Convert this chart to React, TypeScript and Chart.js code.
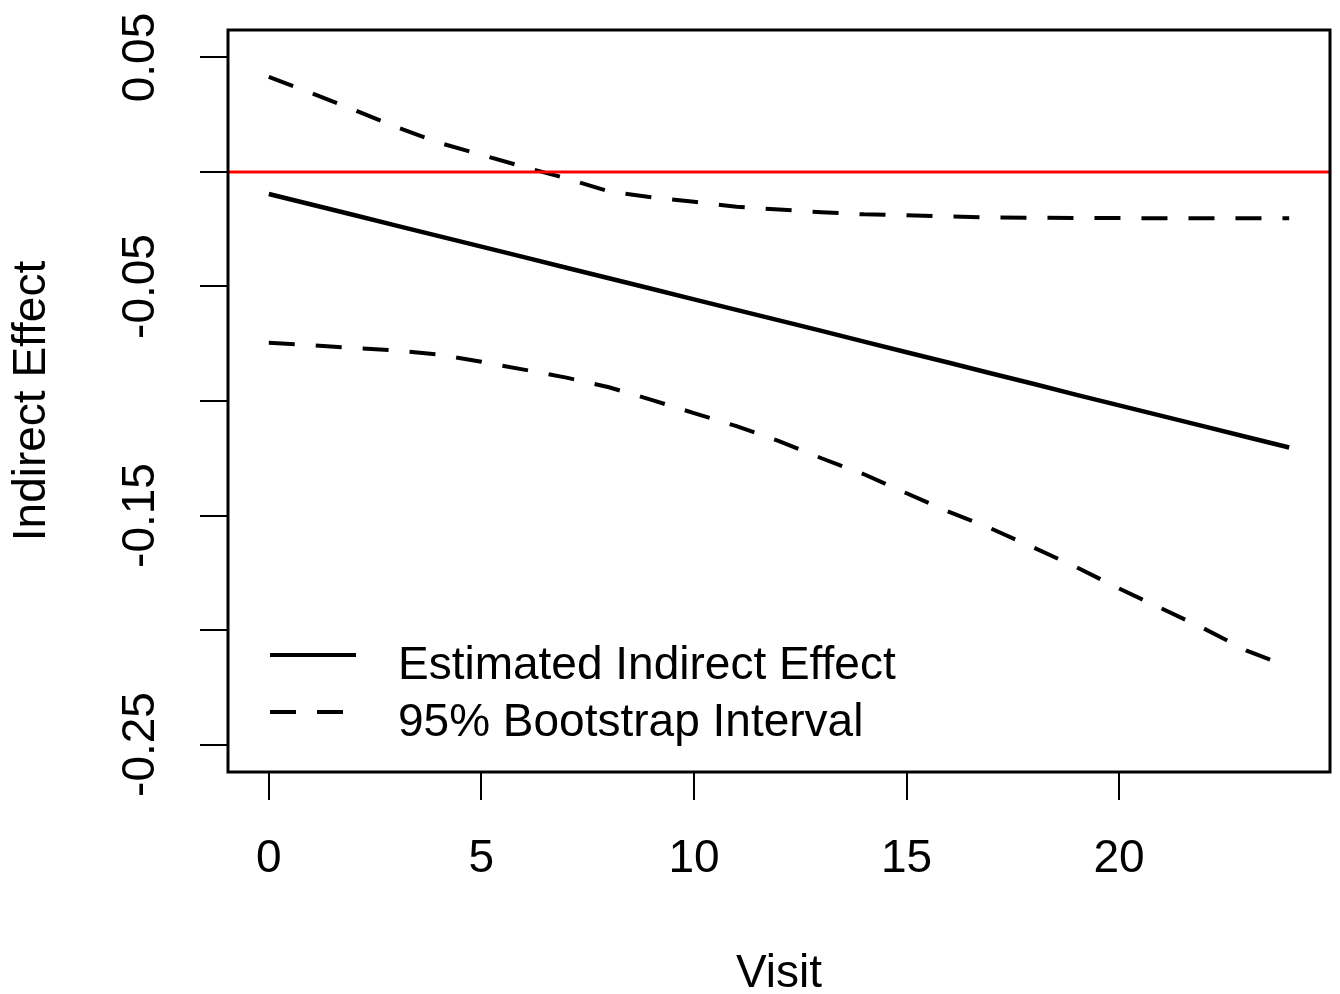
import React, { useEffect, useRef } from 'react';
import { Chart, registerables } from 'chart.js';

Chart.register(...registerables);

// ---- data ----
const visits = [0, 1, 2, 3, 4, 5, 6, 7, 8, 9, 10, 11, 12, 13, 14, 15, 16, 17, 18, 19, 20, 21, 22, 23, 24];

const estimatedEffect = [
  -0.0096, -0.0142, -0.0188, -0.0234, -0.028, -0.0326, -0.0372, -0.0418, -0.0464, -0.051,
  -0.0556, -0.0602, -0.0648, -0.0694, -0.0741, -0.0787, -0.0833, -0.088, -0.0926, -0.0973,
  -0.1019, -0.1065, -0.1111, -0.1157, -0.1203,
];

const upperBound = [
  0.0415, 0.0345, 0.0272, 0.0196, 0.0128, 0.0075, 0.0022, -0.0028, -0.0085, -0.011,
  -0.013, -0.0152, -0.0164, -0.0176, -0.0185, -0.0189, -0.0194, -0.0199, -0.02, -0.0201,
  -0.0201, -0.0202, -0.0202, -0.0202, -0.0202,
];

const lowerBound = [
  -0.0746, -0.0757, -0.0768, -0.0779, -0.0797, -0.0829, -0.0863, -0.0898, -0.094, -0.0995,
  -0.1053, -0.111, -0.1175, -0.125, -0.132, -0.1403, -0.1484, -0.1558, -0.1641, -0.1726,
  -0.1819, -0.1906, -0.1994, -0.209, -0.2162,
];

const referenceLine = [0, 0];

const yLabelledTicks = ['0.05', '-0.05', '-0.15', '-0.25'];

const seriesLabels = ['Estimated Indirect Effect', '95% Bootstrap Interval'];

const X_MIN = -0.96;
const X_MAX = 24.96;
const Y_MIN = -0.262;
const Y_MAX = 0.062;

const FONT = "'Liberation Sans', Arial, Helvetica, sans-serif";
const DASH = [26, 21];

export default function App() {
  const ref = useRef<HTMLCanvasElement | null>(null);

  useEffect(() => {
    if (!ref.current) return;
    const pts = (ys: number[]) => visits.map((x, i) => ({ x, y: ys[i] }));

    const boxPlugin = {
      id: 'rbox',
      afterDraw(chart: any) {
        const { ctx, chartArea: a } = chart;
        ctx.save();
        ctx.strokeStyle = '#000';
        ctx.lineWidth = 3;
        ctx.strokeRect(a.left, a.top, a.right - a.left, a.bottom - a.top);
        ctx.restore();
      },
    };

    const legendPlugin = {
      id: 'rlegend',
      afterDraw(chart: any) {
        const { ctx, chartArea: a } = chart;
        const rows = [
          { label: seriesLabels[0], dash: [] as number[], lineY: a.bottom - 117, textY: a.bottom - 93 },
          { label: seriesLabels[1], dash: DASH, lineY: a.bottom - 60, textY: a.bottom - 36 },
        ];
        ctx.save();
        rows.forEach((r) => {
          ctx.beginPath();
          ctx.setLineDash(r.dash);
          ctx.lineCap = 'butt';
          ctx.lineWidth = 4;
          ctx.strokeStyle = '#000';
          ctx.moveTo(a.left + 42, r.lineY);
          ctx.lineTo(a.left + 128, r.lineY);
          ctx.stroke();
          ctx.setLineDash([]);
          ctx.fillStyle = '#000';
          ctx.font = `46px ${FONT}`;
          ctx.textAlign = 'left';
          ctx.textBaseline = 'alphabetic';
          ctx.fillText(r.label, a.left + 170, r.textY);
        });
        ctx.restore();
      },
    };

    const chart = new Chart(ref.current, {
      type: 'line',
      data: {
        datasets: [
          {
            label: 'zero',
            data: [
              { x: X_MIN, y: referenceLine[0] },
              { x: X_MAX, y: referenceLine[1] },
            ],
            borderColor: '#ff0000',
            borderWidth: 3,
            pointRadius: 0,
            order: 0,
          },
          {
            label: seriesLabels[0],
            data: pts(estimatedEffect),
            borderColor: '#000',
            borderWidth: 4.5,
            pointRadius: 0,
            order: 1,
          },
          {
            label: seriesLabels[1],
            data: pts(upperBound),
            borderColor: '#000',
            borderWidth: 4,
            borderDash: DASH,
            pointRadius: 0,
            order: 1,
          },
          {
            label: seriesLabels[1] + ' (lower)',
            data: pts(lowerBound),
            borderColor: '#000',
            borderWidth: 4,
            borderDash: DASH,
            pointRadius: 0,
            order: 1,
          },
        ],
      },
      options: {
        responsive: false,
        animation: false,
        events: [],
        layout: { padding: { top: 30, right: 10, bottom: 0, left: 0 } },
        plugins: {
          legend: { display: false },
          tooltip: { enabled: false },
        },
        elements: { line: { tension: 0, borderCapStyle: 'butt' } },
        scales: {
          x: {
            type: 'linear',
            min: X_MIN,
            max: X_MAX,
            afterFit: (s: any) => {
              s.height = 222;
              s.paddingLeft = 0;
              s.paddingRight = 0;
            },
            border: { display: false },
            grid: {
              drawOnChartArea: false,
              drawTicks: true,
              tickLength: 28,
              color: '#000',
              lineWidth: 2,
            },
            ticks: {
              stepSize: 5,
              includeBounds: false,
              autoSkip: false,
              maxRotation: 0,
              padding: 32,
              color: '#000',
              font: { family: FONT, size: 46 },
              callback: (v: any) => String(v),
            },
            title: {
              display: true,
              text: 'Visit',
              color: '#000',
              font: { family: FONT, size: 46, lineHeight: 0.85 },
              padding: 0,
            },
          },
          y: {
            type: 'linear',
            min: Y_MIN,
            max: Y_MAX,
            afterFit: (s: any) => {
              s.width = 228;
              s.paddingTop = 0;
              s.paddingBottom = 0;
            },
            border: { display: false },
            grid: {
              drawOnChartArea: false,
              drawTicks: true,
              tickLength: 28,
              color: '#000',
              lineWidth: 2,
            },
            ticks: {
              stepSize: 0.05,
              includeBounds: false,
              autoSkip: false,
              minRotation: 90,
              maxRotation: 90,
              crossAlign: 'center',
              padding: 6,
              color: '#000',
              font: { family: FONT, size: 46 },
              callback: (v: any) => {
                const s = Number(v).toFixed(2);
                return yLabelledTicks.includes(s) ? s : '';
              },
            },
            title: {
              display: true,
              text: 'Indirect Effect',
              color: '#000',
              font: { family: FONT, size: 46, lineHeight: 1 },
              padding: { top: 9, bottom: 0 },
            },
          },
        },
      },
      plugins: [boxPlugin, legendPlugin],
    } as any);

    return () => chart.destroy();
  }, []);

  return (
    <div style={{ position: 'absolute', left: 0, top: 0, width: 1340, height: 994, background: '#fff' }}>
      <canvas ref={ref} width={1340} height={994} style={{ display: 'block' }} />
    </div>
  );
}
